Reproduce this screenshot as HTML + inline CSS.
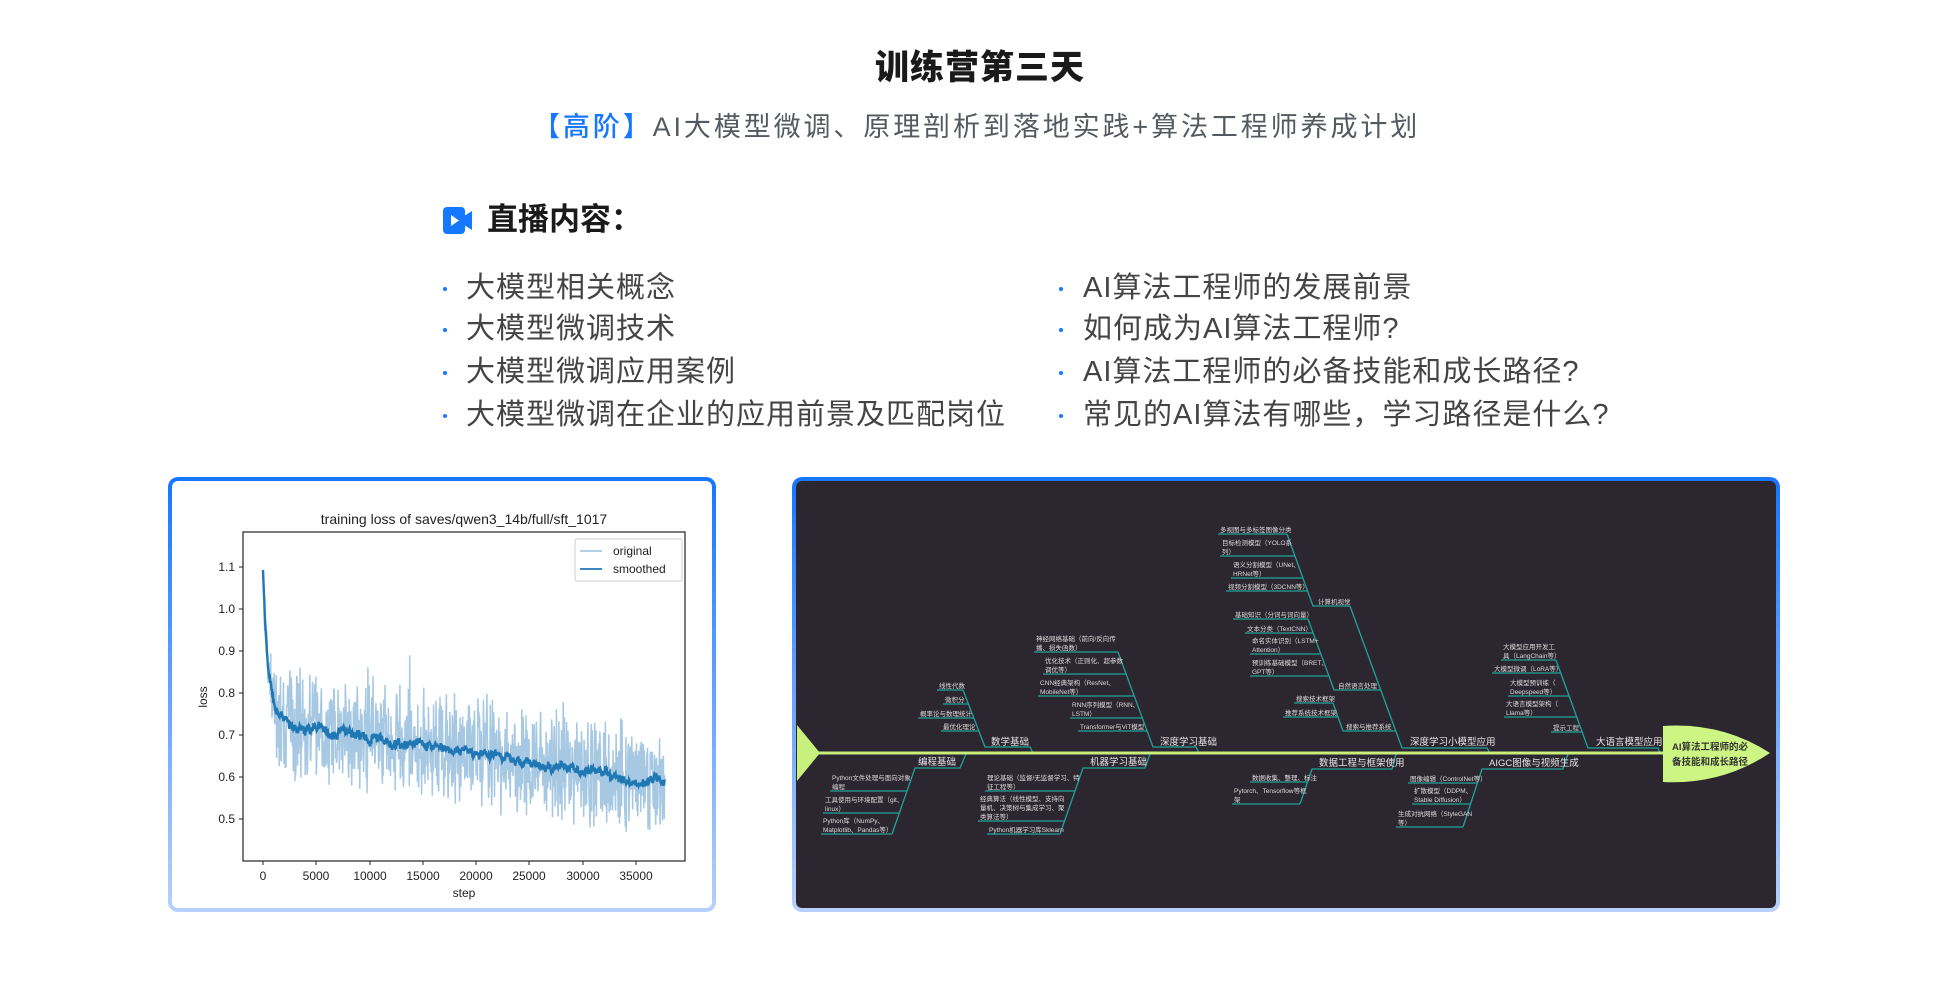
<!DOCTYPE html>
<html><head><meta charset="utf-8">
<style>
html,body{margin:0;padding:0;background:#fff;}
body{width:1960px;height:1000px;position:relative;overflow:hidden;font-family:"Liberation Sans","Noto Sans CJK SC",sans-serif;}
.a{position:absolute;white-space:nowrap;}
.title{left:0;width:1960px;text-align:center;top:50px;font-size:34px;line-height:36px;font-weight:900;color:#1a1a1a;letter-spacing:1px;}
.sub{left:533px;top:113px;font-size:27px;line-height:28px;color:#555a60;letter-spacing:2.9px;}
.sub b{color:#1677ff;font-weight:500;}
.h2{left:487px;top:203px;font-size:31px;line-height:34px;font-weight:700;color:#1a1a1a;}
.li{font-size:29px;line-height:30px;color:#444;letter-spacing:1px;}
.dot{position:absolute;width:4px;height:4px;border-radius:2px;background:#1677ff;}
.panel{position:absolute;box-sizing:border-box;border:4px solid transparent;border-radius:10px;}
</style></head><body>
<div class="a title">训练营第三天</div>
<div class="a sub"><b>【高阶】</b>AI大模型微调、原理剖析到落地实践+算法工程师养成计划</div>
<svg class="a" style="left:443px;top:207px" width="30" height="27" viewBox="0 0 30 27">
<rect x="0" y="0" width="22" height="27" rx="4" fill="#1677ff"/>
<path d="M21 9 L29 4 L29 23 L21 18 Z" fill="#1677ff"/>
<path d="M8 8 L16 13.5 L8 19 Z" fill="#fff"/>
</svg>
<div class="a h2">直播内容：</div>

<div class="dot" style="left:443px;top:287px"></div><div class="a li" style="left:466px;top:273px">大模型相关概念</div>
<div class="dot" style="left:443px;top:328px"></div><div class="a li" style="left:466px;top:314px">大模型微调技术</div>
<div class="dot" style="left:443px;top:371px"></div><div class="a li" style="left:466px;top:357px">大模型微调应用案例</div>
<div class="dot" style="left:443px;top:414px"></div><div class="a li" style="left:466px;top:400px">大模型微调在企业的应用前景及匹配岗位</div>
<div class="dot" style="left:1059px;top:287px"></div><div class="a li" style="left:1083px;top:273px">AI算法工程师的发展前景</div>
<div class="dot" style="left:1059px;top:328px"></div><div class="a li" style="left:1083px;top:314px">如何成为AI算法工程师?</div>
<div class="dot" style="left:1059px;top:371px"></div><div class="a li" style="left:1083px;top:357px">AI算法工程师的必备技能和成长路径?</div>
<div class="dot" style="left:1059px;top:414px"></div><div class="a li" style="left:1083px;top:400px">常见的AI算法有哪些，学习路径是什么?</div>

<div class="panel" style="left:168px;top:477px;width:548px;height:435px;background:linear-gradient(#fff,#fff) padding-box,linear-gradient(#1677ff,#b8d0fb) border-box;"></div>
<div class="panel" style="left:792px;top:477px;width:988px;height:435px;background:linear-gradient(#2c2630,#2c2630) padding-box,linear-gradient(#1677ff,#b8d0fb) border-box;"></div>

<svg class="a" style="left:0;top:0" width="1960" height="1000" viewBox="0 0 1960 1000" font-family="'Liberation Sans','Noto Sans CJK SC',sans-serif">
<text x="464" y="524" font-size="14" text-anchor="middle" fill="#222">training loss of saves/qwen3_14b/full/sft_1017</text>
<g id="data"></g>
<rect x="243" y="532" width="442" height="329" fill="none" stroke="#222" stroke-width="1.2"/>
<g font-size="12" fill="#222" text-anchor="end">
<g stroke="#222"><line x1="239" y1="567" x2="243" y2="567"/><line x1="239" y1="609" x2="243" y2="609"/><line x1="239" y1="651" x2="243" y2="651"/><line x1="239" y1="693" x2="243" y2="693"/><line x1="239" y1="735" x2="243" y2="735"/><line x1="239" y1="777" x2="243" y2="777"/><line x1="239" y1="819" x2="243" y2="819"/></g>
<text x="235" y="571">1.1</text><text x="235" y="613">1.0</text><text x="235" y="655">0.9</text><text x="235" y="697">0.8</text><text x="235" y="739">0.7</text><text x="235" y="781">0.6</text><text x="235" y="823">0.5</text>
</g>
<g font-size="12" fill="#222" text-anchor="middle">
<g stroke="#222"><line x1="263" y1="861" x2="263" y2="865"/><line x1="316" y1="861" x2="316" y2="865"/><line x1="370" y1="861" x2="370" y2="865"/><line x1="423" y1="861" x2="423" y2="865"/><line x1="476" y1="861" x2="476" y2="865"/><line x1="529" y1="861" x2="529" y2="865"/><line x1="583" y1="861" x2="583" y2="865"/><line x1="636" y1="861" x2="636" y2="865"/></g>
<text x="263" y="880">0</text><text x="316" y="880">5000</text><text x="370" y="880">10000</text><text x="423" y="880">15000</text><text x="476" y="880">20000</text><text x="529" y="880">25000</text><text x="583" y="880">30000</text><text x="636" y="880">35000</text>
<text x="464" y="897">step</text>
<text transform="translate(207,697) rotate(-90)">loss</text>
</g>
<rect x="575" y="539" width="107" height="42" rx="2" fill="#fff" fill-opacity="0.85" stroke="#ccc"/>
<line x1="580" y1="551" x2="602" y2="551" stroke="#a6c8e2" stroke-width="1.8"/>
<line x1="580" y1="569" x2="602" y2="569" stroke="#1f77b4" stroke-width="1.8"/>
<text x="613" y="555" font-size="12" fill="#222">original</text>
<text x="613" y="573" font-size="12" fill="#222">smoothed</text>

<g stroke="#1fa495" stroke-width="1.3" fill="none">
<polyline points="963,690 985,747 1030,747 1033,753"/>
<line x1="937" y1="690" x2="963" y2="690"/><line x1="943" y1="704" x2="968" y2="704"/><line x1="918" y1="718" x2="974" y2="718"/><line x1="941" y1="731" x2="979" y2="731"/>
<polyline points="1118,652 1153,747 1196,747 1199,753"/>
<line x1="1034" y1="652" x2="1118" y2="652"/><line x1="1043" y1="674" x2="1126" y2="674"/><line x1="1038" y1="696" x2="1134" y2="696"/><line x1="1070" y1="718" x2="1142" y2="718"/><line x1="1078" y1="731" x2="1147" y2="731"/>
<polyline points="1350,606 1402,748 1487,748 1490,753"/>
<polyline points="1287,534 1313,606 1350,606"/>
<line x1="1218" y1="534" x2="1287" y2="534"/><line x1="1220" y1="556" x2="1295" y2="556"/><line x1="1231" y1="578" x2="1303" y2="578"/><line x1="1226" y1="591" x2="1308" y2="591"/>
<polyline points="1308,619 1334,690 1381,690"/>
<line x1="1233" y1="619" x2="1308" y2="619"/><line x1="1245" y1="633" x2="1313" y2="633"/><line x1="1250" y1="654" x2="1321" y2="654"/><line x1="1250" y1="676" x2="1328" y2="676"/>
<polyline points="1333,703 1343,731 1395,731"/>
<line x1="1294" y1="703" x2="1333" y2="703"/><line x1="1283" y1="717" x2="1338" y2="717"/>
<polyline points="1556,660 1588,748 1658,748 1660,753"/>
<line x1="1501" y1="660" x2="1556" y2="660"/><line x1="1492" y1="673" x2="1561" y2="673"/><line x1="1508" y1="696" x2="1569" y2="696"/><line x1="1504" y1="717" x2="1577" y2="717"/><line x1="1551" y1="732" x2="1582" y2="732"/>
<polyline points="966,754 960,768 915,768 892,834"/>
<line x1="830" y1="791" x2="907" y2="791"/><line x1="823" y1="813" x2="899" y2="813"/><line x1="821" y1="834" x2="892" y2="834"/>
<polyline points="1150,754 1145,768 1083,768 1060,834"/>
<line x1="985" y1="791" x2="1075" y2="791"/><line x1="978" y1="821" x2="1065" y2="821"/><line x1="987" y1="834" x2="1060" y2="834"/>
<polyline points="1396,754 1392,769 1312,769 1300,804"/>
<line x1="1250" y1="782" x2="1307" y2="782"/><line x1="1232" y1="804" x2="1300" y2="804"/>
<polyline points="1568,754 1563,769 1482,769 1463,827"/>
<line x1="1408" y1="783" x2="1478" y2="783"/><line x1="1412" y1="804" x2="1470" y2="804"/><line x1="1396" y1="827" x2="1463" y2="827"/>
</g>
<line x1="815" y1="753" x2="1668" y2="753" stroke="#c8ef7e" stroke-width="3"/>
<path d="M797,725 L820,753 L797,781 Z" fill="#c8f07c"/>
<path d="M1663,726 Q1722,722 1770,753 Q1722,785 1663,782 Z" fill="#cdf583"/>
<text x="1710" y="750" font-size="9.5" font-weight="700" fill="#333" text-anchor="middle">AI算法工程师的必</text>
<text x="1710" y="765" font-size="9.5" font-weight="700" fill="#333" text-anchor="middle">备技能和成长路径</text>

<g fill="#e6e6e6" font-size="9.5">
<text x="991" y="745">数学基础</text>
<text x="1160" y="745">深度学习基础</text>
<text x="1410" y="745">深度学习小模型应用</text>
<text x="1596" y="745">大语言模型应用</text>
<text x="918" y="765">编程基础</text>
<text x="1090" y="765">机器学习基础</text>
<text x="1319" y="766">数据工程与框架使用</text>
<text x="1489" y="766">AIGC图像与视频生成</text>
</g>
<g fill="#dcdcdc" font-size="6.5">
<text x="1318" y="604">计算机视觉</text>
<text x="1338" y="688">自然语言处理</text>
<text x="1346" y="729">搜索与推荐系统</text>
<text x="939" y="688">线性代数</text><text x="945" y="702">微积分</text><text x="920" y="716">概率论与数理统计</text><text x="943" y="729">最优化理论</text>
<text x="1036" y="641">神经网络基础（前向/反向传</text><text x="1036" y="650">播、损失函数）</text>
<text x="1045" y="663">优化技术（正则化、超参数</text><text x="1045" y="672">调优等）</text>
<text x="1040" y="685">CNN经典架构（ResNet、</text><text x="1040" y="694">MobileNet等）</text>
<text x="1072" y="707">RNN序列模型（RNN、</text><text x="1072" y="716">LSTM）</text>
<text x="1080" y="729">Transformer与ViT模型</text>
<text x="1220" y="532">多视图与多标签图像分类</text>
<text x="1222" y="545">目标检测模型（YOLO系</text><text x="1222" y="554">列）</text>
<text x="1233" y="567">语义分割模型（UNet、</text><text x="1233" y="576">HRNet等）</text>
<text x="1228" y="589">视频分割模型（3DCNN等）</text>
<text x="1235" y="617">基础知识（分词与词向量）</text>
<text x="1247" y="631">文本分类（TextCNN）</text>
<text x="1252" y="643">命名实体识别（LSTM+</text><text x="1252" y="652">Attention）</text>
<text x="1252" y="665">预训练基础模型（BRET、</text><text x="1252" y="674">GPT等）</text>
<text x="1296" y="701">搜索技术框架</text>
<text x="1285" y="715">推荐系统技术框架</text>
<text x="1503" y="649">大模型应用开发工</text><text x="1503" y="658">具（LangChain等）</text>
<text x="1494" y="671">大模型微调（LoRA等）</text>
<text x="1510" y="685">大模型预训练（</text><text x="1510" y="694">Deepspeed等）</text>
<text x="1506" y="706">大语言模型架构（</text><text x="1506" y="715">Llama等）</text>
<text x="1553" y="730">提示工程</text>
<text x="832" y="780">Python文件处理与面向对象</text><text x="832" y="789">编程</text>
<text x="825" y="802">工具使用与环境配置（git、</text><text x="825" y="811">linux）</text>
<text x="823" y="823">Python库（NumPy、</text><text x="823" y="832">Matplotlib、Pandas等）</text>
<text x="987" y="780">理论基础（监督/无监督学习、特</text><text x="987" y="789">征工程等）</text>
<text x="980" y="801">经典算法（线性模型、支持向</text><text x="980" y="810">量机、决策树与集成学习、聚</text><text x="980" y="819">类算法等）</text>
<text x="989" y="832">Python机器学习库Sklearn</text>
<text x="1252" y="780">数据收集、整理、标注</text>
<text x="1234" y="793">Pytorch、Tensorflow等框</text><text x="1234" y="802">架</text>
<text x="1410" y="781">图像编辑（ControlNet等）</text>
<text x="1414" y="793">扩散模型（DDPM、</text><text x="1414" y="802">Stable Diffusion）</text>
<text x="1398" y="816">生成对抗网络（StyleGAN</text><text x="1398" y="825">等）</text>
</g>
</svg>
<script>
(function(){
var seed=12345;function r(){seed=(seed*1103515245+12345)%2147483648;return seed/2147483648;}
function X(s){return 263+s/5000*53.3;}
function Y(v){return 609-(v-1.0)*420;}
function f(s){return 0.735-0.000004*s+0.35*Math.exp(-s/500);}
var o=[],sm=[],slow=0;
for(var s=0;s<=37700;s+=40){
  var n=(r()-0.5)*0.2+(r()-0.5)*0.1;
  if(r()<0.06)n+=(r()-0.5)*0.2;
  var v=f(s)+n*(s<600?0.5:1);
  o.push(X(s).toFixed(1)+','+Y(v).toFixed(1));
  slow=slow*0.9+(r()-0.5)*0.01;
  if(slow>0.015)slow=0.015;if(slow<-0.015)slow=-0.015;
  var sv=f(s)+slow+(r()-0.5)*0.016;
  sm.push(X(s).toFixed(1)+','+Y(sv).toFixed(1));
}
var g=document.getElementById('data');
g.innerHTML='<polyline points="'+o.join(' ')+'" fill="none" stroke="#a6c8e2" stroke-width="1.5"/>'+
'<polyline points="'+sm.join(' ')+'" fill="none" stroke="#1f77b4" stroke-width="2.4"/>';
})();
</script>
</body></html>
